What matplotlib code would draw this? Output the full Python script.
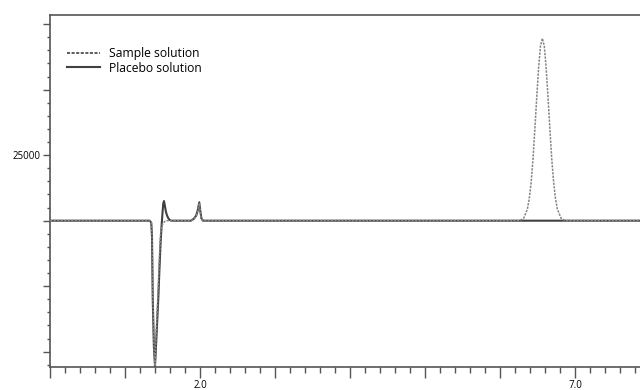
import matplotlib
matplotlib.use('Agg')
import matplotlib.pyplot as plt
from matplotlib.ticker import MultipleLocator, FuncFormatter

# Retention time (min) and detector response
placebo_time = [0.0, 1.33, 1.35, 1.36, 1.37, 1.385, 1.40, 1.415, 1.43, 1.445, 1.46, 1.475,
                1.49, 1.50, 1.51, 1.52, 1.53, 1.545, 1.56, 1.58, 1.60, 1.62,
                1.88, 1.92, 1.95, 1.97, 1.99, 2.005, 2.02, 2.04, 7.9]
placebo_signal = [0, 0, -800, -6000, -30000, -48000, -55500, -47000, -38000, -29000, -18000, -8000,
                  -1000, 3000, 6500, 7500, 6000, 3500, 2000, 800, 200, 0,
                  0, 800, 2000, 4000, 7000, 3500, 800, 0, 0]

sample_time = [0.0, 1.33, 1.35, 1.36, 1.37, 1.385, 1.40, 1.415, 1.43, 1.445, 1.46, 1.475,
               1.49, 1.51, 1.53, 1.56,
               1.88, 1.92, 1.95, 1.97, 1.99, 2.005, 2.02, 2.04,
               6.26, 6.315, 6.365, 6.39, 6.415, 6.44, 6.465, 6.49, 6.515, 6.54, 6.565,
               6.59, 6.615, 6.64, 6.665, 6.69, 6.715, 6.74, 6.765, 6.815, 6.87, 7.9]
sample_signal = [0, 0, -600, -5000, -28000, -47000, -55500, -44000, -34000, -24000, -13000, -5000,
                 -2000, -900, -300, 0,
                 0, 700, 1800, 3600, 6500, 3200, 700, 0,
                 0, 900, 4400, 8400, 14600, 23600, 35000, 47200, 58500, 66700, 69600,
                 66700, 58500, 47200, 35000, 23600, 14600, 8400, 4400, 900, 0, 0]

fig = plt.figure(figsize=(6.4, 3.9), dpi=100)
ax = fig.add_axes([50/640, 1 - 367/390, 592/640, (367 - 15)/390])

ax.plot(placebo_time, placebo_signal, color='#404040', lw=1.5, label='Placebo solution', zorder=2)
ax.plot(sample_time, sample_signal, color='#858585', lw=1.1, ls=(0, (1.5, 0.8)),
        label='Sample solution', zorder=3)

ax.set_xlim(0, 592/75)
ax.set_ylim(-55840, 78500)

ax.xaxis.set_major_locator(MultipleLocator(1))
ax.xaxis.set_minor_locator(MultipleLocator(0.2))
ax.yaxis.set_major_locator(MultipleLocator(25000))
ax.yaxis.set_minor_locator(MultipleLocator(5000))
ax.xaxis.set_major_formatter(FuncFormatter(lambda v, p: '{:.1f}'.format(v) if round(v) in (2, 7) else ''))
ax.yaxis.set_major_formatter(FuncFormatter(lambda v, p: '{:d}'.format(int(v)) if round(v) == 25000 else ''))

ax.tick_params(axis='x', which='major', length=8, width=1, color='#555555', labelsize=7, pad=1)
ax.tick_params(axis='x', which='minor', length=4, width=1, color='#555555')
ax.tick_params(axis='y', which='major', length=5, width=1, color='#555555', labelsize=7, pad=2)
ax.tick_params(axis='y', which='minor', length=2, width=1, color='#555555')
for lab in ax.get_xticklabels() + ax.get_yticklabels():
    lab.set_family('Open Sans')

for s in ax.spines.values():
    s.set_color('#555555')
    s.set_linewidth(1.2)

# legend: sample first (dashed), then placebo
h, l = ax.get_legend_handles_labels()
leg = ax.legend(h[::-1], l[::-1], loc='upper left', bbox_to_anchor=(11/592, 0.925),
                frameon=False, borderpad=0, handlelength=2.7, handletextpad=0.75, labelspacing=0.1,
                prop={'family': 'Open Sans', 'size': 8.7})
leg.get_lines()[0].set_color('#303030')
leg.get_lines()[0].set_linestyle((0, (2, 1)))

plt.savefig('out.png', dpi=100)
